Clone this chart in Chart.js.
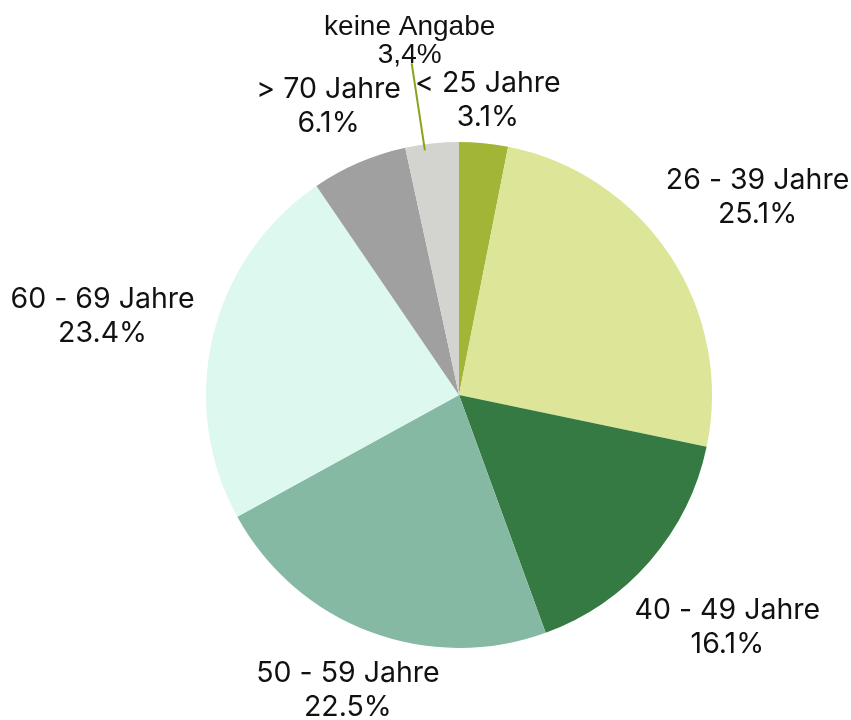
<!DOCTYPE html>
<html>
<head>
<meta charset="utf-8">
<script src="https://cdn.jsdelivr.net/npm/chart.js@4/dist/chart.umd.min.js"></script>
<style>
  html, body { margin: 0; padding: 0; background: #fff; }
  #wrap { width: 851px; height: 720px; }
</style>
</head>
<body>
<div id="wrap"><canvas id="ageChart" width="851" height="720"></canvas></div>
<script>
/* Altersverteilung — pie, slices clockwise from 12 o'clock */
var CATEGORIES = ['< 25 Jahre', '26 - 39 Jahre', '40 - 49 Jahre', '50 - 59 Jahre', '60 - 69 Jahre', '> 70 Jahre', 'keine Angabe'];
var SHARES = [3.1, 25.1, 16.1, 22.5, 23.4, 6.1, 3.4];
var SHARE_TEXT = ['3.1%', '25.1%', '16.1%', '22.5%', '23.4%', '6.1%', '3,4%'];
var COLORS = ['#a3b537', '#dde598', '#357a43', '#86b9a3', '#ddf8ef', '#a0a0a0', '#d3d3cf'];

(function () {
  'use strict';

  // label distance from pie centre (px) and small angle nudge (deg), per slice
  var LABEL_DIST = [296, 358, 355, 316, 365, 317, 357];
  var LABEL_TURN = [0, 0, 0, 0, -1, -1, -1.8];
  var LEADER_INDEX = 6;

  var outsideLabels = {
    id: 'outsideLabels',
    afterDatasetsDraw: function (chart) {
      var ctx = chart.ctx;
      var arcs = chart.getDatasetMeta(0).data;
      ctx.save();
      arcs.forEach(function (arc, i) {
        var mid = (arc.startAngle + arc.endAngle) / 2 + LABEL_TURN[i] * Math.PI / 180;
        var x = arc.x + Math.cos(mid) * LABEL_DIST[i];
        var y = arc.y + Math.sin(mid) * LABEL_DIST[i];
        var special = i === LEADER_INDEX;
        var gap = special ? 28 : 34;

        if (special) {
          var ex = arc.x + Math.cos(mid) * (arc.outerRadius - 6);
          var ey = arc.y + Math.sin(mid) * (arc.outerRadius - 6);
          ctx.strokeStyle = '#86a31e';
          ctx.lineWidth = 2;
          ctx.beginPath();
          ctx.moveTo(x + 2, y + 22);
          ctx.lineTo(ex, ey);
          ctx.stroke();
        }

        ctx.fillStyle = '#111';
        ctx.textAlign = 'center';
        ctx.textBaseline = 'middle';
        ctx.font = special ? '28px "Liberation Sans", Arial, sans-serif' : '28.5px Inter, sans-serif';
        ctx.fillText(CATEGORIES[i], x, y - gap / 2);
        ctx.fillText(SHARE_TEXT[i], x, y + gap / 2);
      });
      ctx.restore();
    }
  };

  new Chart(document.getElementById('ageChart').getContext('2d'), {
    type: 'pie',
    data: {
      labels: CATEGORIES,
      datasets: [{
        data: SHARES,
        backgroundColor: COLORS,
        borderWidth: 0
      }]
    },
    options: {
      responsive: false,
      animation: false,
      layout: { padding: { left: 206, right: 139, top: 142, bottom: 72 } },
      plugins: {
        legend: { display: false },
        tooltip: { enabled: false }
      }
    },
    plugins: [outsideLabels]
  });
})();
</script>
</body>
</html>
